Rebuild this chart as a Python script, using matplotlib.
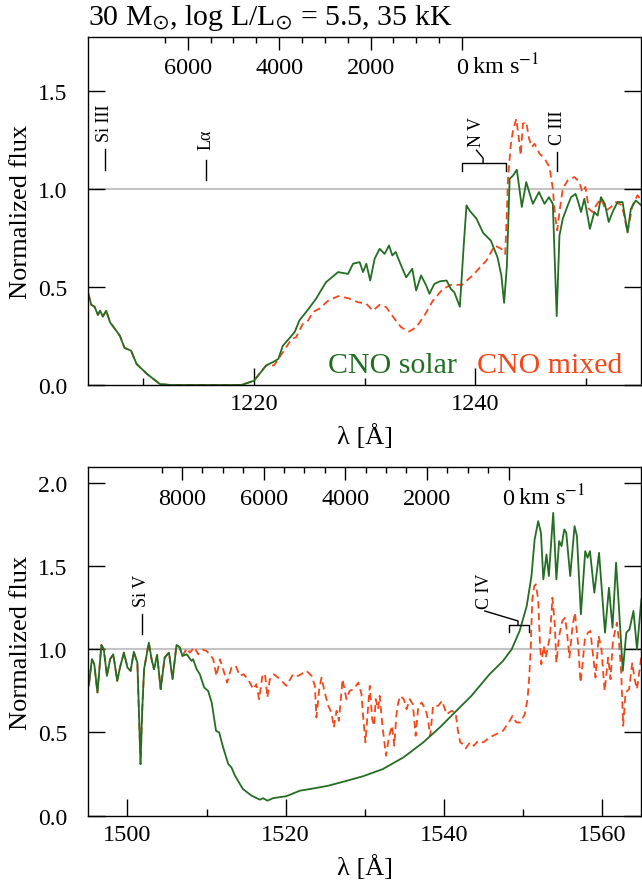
import numpy as np
import matplotlib.pyplot as plt
from matplotlib.ticker import FixedLocator, MultipleLocator, NullFormatter

plt.rcParams['font.family'] = ['Liberation Serif', 'DejaVu Serif']
plt.rcParams['mathtext.fontset'] = 'stix'

GREEN = '#236e23'
RED = '#f4471a'
C_KMS = 2.998e5

# ---------------- N V / Ly-alpha region ----------------
lam_nv_wing = [1205.0, 1205.3, 1205.6, 1205.9, 1206.1, 1206.35, 1206.65, 1207.0, 1207.4, 1207.9,
               1208.3, 1208.9, 1209.4, 1210.35, 1211.5, 1212.5, 1218.85, 1220.0, 1221.1]
flux_nv_wing = [0.474, 0.41, 0.40, 0.358, 0.38, 0.35, 0.38, 0.32, 0.29, 0.25,
                0.19, 0.175, 0.107, 0.056, 0.005, 0.0, 0.0, 0.022, 0.10]

lam_nv_solar = [1221.8, 1222.2, 1222.6, 1223.4, 1223.7, 1224.1, 1224.7, 1225.6, 1226.5, 1227.6,
                1228.5, 1228.95, 1229.55, 1229.85, 1230.15, 1230.5, 1230.9, 1231.35, 1231.8, 1232.2,
                1232.5, 1232.8, 1233.3, 1233.75, 1234.3, 1234.65, 1235.1, 1235.55, 1235.85, 1236.3,
                1236.8, 1237.4, 1237.8, 1238.1, 1238.6, 1238.95, 1239.2, 1239.5, 1240.1, 1240.7,
                1241.4, 1242.0, 1242.35, 1242.6, 1242.85, 1243.1, 1243.4, 1243.75, 1243.9, 1244.2,
                1244.6, 1244.95, 1245.2, 1245.75, 1246.25, 1246.65, 1247.0, 1247.15, 1247.35, 1247.6,
                1247.9, 1248.35, 1248.65, 1249.05, 1249.3, 1249.55, 1249.85, 1250.05, 1250.35, 1250.75,
                1251.05, 1251.35, 1251.7, 1252.05, 1252.4, 1252.85, 1253.3, 1253.75, 1254.05, 1254.5,
                1255.0]
flux_nv_solar = [0.12, 0.133, 0.20, 0.252, 0.273, 0.33, 0.372, 0.44, 0.525, 0.577,
                 0.568, 0.62, 0.628, 0.577, 0.62, 0.534, 0.645, 0.696, 0.67, 0.713,
                 0.662, 0.68, 0.61, 0.55, 0.594, 0.483, 0.56, 0.51, 0.466, 0.517,
                 0.53, 0.534, 0.49, 0.474, 0.40, 0.713, 0.918, 0.89, 0.85, 0.778,
                 0.738, 0.653, 0.56, 0.42, 0.61, 1.054, 1.07, 1.10, 1.037, 0.91,
                 1.037, 0.97, 0.926, 0.986, 0.926, 0.96, 0.926, 0.68, 0.352, 0.764,
                 0.85, 0.918, 0.96, 0.977, 0.935, 0.884, 0.952, 0.892, 0.798, 0.884,
                 0.866, 0.96, 0.926, 0.833, 0.884, 0.935, 0.935, 0.78, 0.90, 0.943,
                 0.918]

lam_nv_mixed = [1221.8, 1222.0, 1222.6, 1223.4, 1223.8, 1224.4, 1224.9, 1225.3, 1225.9, 1226.7,
                1227.6, 1228.5, 1229.4, 1230.15, 1230.75, 1231.35, 1231.95, 1232.7, 1233.3, 1234.0,
                1234.65, 1235.4, 1236.15, 1237.05, 1237.8, 1238.8, 1239.75, 1241.0, 1241.75, 1242.35,
                1242.7, 1242.85, 1242.95, 1243.2, 1243.4, 1243.7, 1243.9, 1244.1, 1244.3, 1244.6,
                1244.85, 1245.1, 1245.35, 1245.8, 1246.25, 1246.7, 1247.0, 1247.2, 1247.4, 1247.6,
                1247.9, 1248.35, 1248.95, 1249.4, 1249.65, 1249.95, 1250.25, 1250.6, 1251.0, 1251.35,
                1251.8, 1252.25, 1252.7, 1253.25, 1253.75, 1254.2, 1254.65, 1255.0]
flux_nv_mixed = [0.10, 0.116, 0.167, 0.235, 0.244, 0.312, 0.33, 0.372, 0.39, 0.431,
                 0.454, 0.444, 0.423, 0.415, 0.38, 0.41, 0.398, 0.338, 0.295, 0.273,
                 0.295, 0.355, 0.43, 0.49, 0.512, 0.512, 0.56, 0.636, 0.713, 0.696,
                 0.67, 0.884, 1.054, 1.225, 1.30, 1.36, 1.276, 1.174, 1.336, 1.344,
                 1.259, 1.216, 1.233, 1.182, 1.157, 1.114, 1.003, 0.866, 0.79, 0.884,
                 1.003, 1.046, 1.063, 1.037, 0.986, 1.012, 0.90, 0.884, 0.926, 0.952,
                 0.892, 0.909, 0.935, 0.918, 0.78, 0.918, 0.97, 0.943]

# ---------------- C IV region ----------------
lam_civ_blue = [1495.0, 1495.1, 1495.5, 1495.8, 1496.2, 1496.7, 1497.0, 1497.4, 1497.8, 1498.2,
                1498.7, 1499.05, 1499.55, 1500.0, 1500.4, 1500.8, 1501.25, 1501.45, 1501.65, 1501.85,
                1502.1, 1502.7, 1503.05, 1503.35, 1503.75, 1504.2, 1504.7, 1505.25, 1505.7, 1506.2,
                1506.6, 1506.95]
flux_civ_blue = [0.84, 0.78, 0.94, 0.91, 0.74, 1.026, 1.0, 0.84, 0.94, 0.97,
                 0.81, 0.89, 0.98, 0.89, 0.87, 0.985, 0.92, 0.62, 0.31, 0.62,
                 0.88, 1.04, 0.94, 0.88, 0.966, 0.76, 0.95, 0.98, 0.82, 1.026,
                 1.012, 0.96]

lam_civ_solar = [1507.5, 1508.1, 1508.3, 1508.75, 1509.15, 1509.7, 1510.2, 1510.65, 1511.2, 1511.6,
                 1512.1, 1512.75, 1513.15, 1513.6, 1514.6, 1515.7, 1516.75, 1517.15, 1517.7, 1518.4,
                 1520.1, 1521.8, 1523.7, 1525.4, 1527.3, 1529.8, 1532.3, 1534.9, 1537.4, 1539.5,
                 1541.6, 1543.5, 1545.8, 1547.5, 1548.6, 1549.6, 1550.5, 1551.1, 1551.5, 1551.95,
                 1552.3, 1552.6, 1553.0, 1553.3, 1553.85, 1554.25, 1554.6, 1554.9, 1555.25, 1555.5,
                 1556.0, 1556.55, 1556.85, 1557.35, 1557.9, 1558.2, 1558.5, 1559.05, 1559.65, 1560.4,
                 1560.9, 1561.35, 1561.8, 1562.1, 1562.65, 1563.1, 1563.5, 1564.0, 1564.45, 1565.0]
flux_civ_solar = [0.97, 0.93, 0.94, 0.88, 0.85, 0.77, 0.75, 0.68, 0.51, 0.50,
                  0.41, 0.31, 0.29, 0.24, 0.16, 0.12, 0.096, 0.105, 0.09, 0.105,
                  0.117, 0.15, 0.165, 0.18, 0.204, 0.237, 0.28, 0.35, 0.44, 0.53,
                  0.63, 0.72, 0.85, 0.93, 1.0, 1.11, 1.26, 1.44, 1.66, 1.77,
                  1.70, 1.42, 1.57, 1.44, 1.82, 1.42, 1.65, 1.62, 1.72, 1.70,
                  1.44, 1.74, 1.68, 1.21, 1.59, 1.55, 1.59, 1.34, 1.58, 1.10,
                  1.37, 1.13, 1.52, 1.30, 0.87, 1.10, 1.12, 1.23, 1.00, 1.30]

lam_civ_mixed = [1507.5, 1507.9, 1508.45, 1508.95, 1509.5, 1510.0, 1510.4, 1510.85, 1511.25, 1511.7,
                 1512.1, 1512.6, 1513.15, 1513.7, 1514.2, 1514.7, 1515.25, 1515.9, 1516.3, 1516.65,
                 1517.1, 1517.4, 1517.7, 1518.0, 1518.5, 1519.3, 1520.1, 1520.95, 1521.6, 1522.65,
                 1523.3, 1523.7, 1523.9, 1524.25, 1524.55, 1524.95, 1525.4, 1525.8, 1526.1, 1526.45,
                 1526.75, 1527.2, 1527.7, 1528.1, 1528.6, 1529.2, 1529.6, 1529.8, 1530.1, 1530.35,
                 1530.65, 1530.95, 1531.2, 1531.4, 1531.7, 1531.9, 1532.25, 1532.7, 1533.1, 1533.45,
                 1533.75, 1534.0, 1534.25, 1534.5, 1534.95, 1535.3, 1535.7, 1536.1, 1536.45, 1536.75,
                 1537.2, 1537.7, 1538.0, 1538.3, 1538.65, 1539.3, 1539.8, 1540.35, 1541.0, 1541.5,
                 1541.8, 1542.1, 1542.45, 1542.8, 1543.3, 1543.8, 1544.35, 1545.0, 1545.8, 1546.65,
                 1547.5, 1548.35, 1548.7, 1549.2, 1549.7, 1550.25, 1550.6, 1550.8, 1551.0, 1551.2,
                 1551.45, 1551.65, 1551.95, 1552.15, 1552.35, 1552.65, 1552.9, 1553.2, 1553.45, 1553.75,
                 1554.05, 1554.25, 1554.6, 1555.0, 1555.35, 1555.6, 1555.9, 1556.3, 1556.6, 1557.0,
                 1557.3, 1557.5, 1557.85, 1558.25, 1558.55, 1558.9, 1559.2, 1559.6, 1559.95, 1560.35,
                 1560.8, 1561.1, 1561.4, 1561.9, 1562.15, 1562.45, 1562.7, 1563.0, 1563.45, 1563.85,
                 1564.15, 1564.45, 1565.0]
flux_civ_mixed = [1.006, 0.98, 1.012, 0.97, 0.998, 0.99, 0.97, 0.94, 0.84, 0.94,
                  0.88, 0.80, 0.89, 0.90, 0.84, 0.85, 0.82, 0.76, 0.79, 0.70,
                  0.85, 0.85, 0.71, 0.82, 0.85, 0.82, 0.78, 0.85, 0.84, 0.87,
                  0.84, 0.78, 0.59, 0.76, 0.83, 0.74, 0.66, 0.62, 0.53, 0.63,
                  0.57, 0.82, 0.70, 0.75, 0.76, 0.80, 0.73, 0.60, 0.44, 0.60,
                  0.78, 0.58, 0.54, 0.70, 0.64, 0.72, 0.54, 0.36, 0.48, 0.54,
                  0.42, 0.60, 0.68, 0.72, 0.70, 0.64, 0.70, 0.67, 0.48, 0.64,
                  0.68, 0.64, 0.58, 0.48, 0.66, 0.66, 0.69, 0.61, 0.63, 0.62,
                  0.51, 0.44, 0.43, 0.405, 0.44, 0.42, 0.45, 0.44, 0.47, 0.49,
                  0.51, 0.57, 0.60, 0.56, 0.56, 0.61, 0.70, 0.82, 1.00, 1.30,
                  1.38, 1.39, 1.30, 1.06, 0.91, 1.02, 0.95, 1.02, 1.08, 1.31,
                  1.15, 0.92, 1.08, 1.17, 1.19, 1.10, 0.95, 1.14, 1.22, 1.03,
                  0.80, 0.88, 1.06, 1.10, 1.11, 0.96, 0.83, 1.08, 1.00, 0.75,
                  0.95, 0.82, 1.05, 1.16, 1.06, 0.86, 0.54, 0.74, 0.76, 0.92,
                  0.82, 0.76, 0.96]

# line identifications: (label, wavelength, tick bottom, tick top, text bottom)
ids_nv = [('Si III', 1206.5, 1.097, 1.208, 1.245),
          ('L\u03b1', 1215.67, 1.046, 1.148, 1.208),
          ('C III', 1247.4, 1.092, 1.191, 1.233)]
ids_civ = [('Si V', 1501.8, 1.092, 1.213, 1.26)]


def velocity_axis(ax, lam0, vmax, major):
    sec = ax.secondary_xaxis('top', functions=(lambda l: (lam0 - l) / lam0 * C_KMS,
                                               lambda v: lam0 - v * lam0 / C_KMS))
    sec.xaxis.set_major_locator(FixedLocator(major))
    sec.xaxis.set_minor_locator(FixedLocator(np.arange(0, vmax + 1, 500)))
    sec.xaxis.set_minor_formatter(NullFormatter())
    sec.set_xticklabels([str(v) for v in major])
    sec.tick_params(which='major', direction='in', length=9, width=1, pad=-30, labelsize=17.5)
    sec.tick_params(which='minor', direction='in', length=4, width=1)
    sec.spines['top'].set_visible(False)
    ax.annotate('km s$^{-1}$', xy=(lam0, 1), xycoords=('data', 'axes fraction'),
                xytext=(7, -30), textcoords='offset points', ha='left', va='bottom',
                fontsize=17.5)
    return sec


def style_axes(ax, xlim, ylim, yticks, xmajor):
    ax.set_xlim(*xlim)
    ax.set_ylim(*ylim)
    ax.set_yticks(yticks)
    ax.set_yticklabels(['%.1f' % y for y in yticks])
    ax.xaxis.set_major_locator(MultipleLocator(xmajor))
    ax.xaxis.set_minor_locator(MultipleLocator(xmajor / 2))
    ax.tick_params(axis='y', which='major', direction='in', length=12, width=1,
                   left=True, right=True, pad=15, labelsize=17)
    ax.tick_params(axis='x', which='major', direction='in', length=12, width=1,
                   top=False, pad=6, labelsize=17.5)
    ax.tick_params(axis='x', which='minor', direction='in', length=5, width=1, top=False)
    for s in ax.spines.values():
        s.set_linewidth(1)
    ax.axhline(1.0, color='#c4c4c4', lw=1.5, zorder=0)
    ax.set_xlabel('\u03bb [\u00c5]', fontsize=19)
    ax.set_ylabel('Normalized flux', fontsize=19)
    ax.yaxis.set_label_coords(-0.102, 0.5)
    ax.xaxis.set_label_coords(0.5, -0.11)


def mark_lines(ax, ids):
    for name, lam, y0, y1, yt in ids:
        ax.plot([lam, lam], [y0, y1], color='k', lw=1)
        ax.text(lam, yt, name, rotation=90, ha='center', va='bottom', fontsize=13)


def doublet(ax, name, lam1, lam2, ybar, yend, knee, text_xy):
    ax.plot([lam1, lam1, lam2, lam2], [yend, ybar, ybar, yend], color='k', lw=1)
    ax.plot([knee[0], knee[0], text_xy[0]], [ybar, knee[1], text_xy[1]], color='k', lw=1)
    ax.text(text_xy[0], text_xy[1] + 0.02, name, rotation=90, ha='center', va='bottom',
            fontsize=13)


fig = plt.figure(figsize=(6.42, 8.87), dpi=100)
ax1 = fig.add_axes([0.137, 0.5648, 0.862, 0.3927])
ax2 = fig.add_axes([0.137, 0.0793, 0.862, 0.3928])

# N V panel
ax1.plot(lam_nv_wing + lam_nv_mixed, flux_nv_wing + flux_nv_mixed, color=RED, lw=1.3,
         ls=(0, (4, 2.5)))
ax1.plot(lam_nv_wing + lam_nv_solar, flux_nv_wing + flux_nv_solar, color=GREEN, lw=1.3)
style_axes(ax1, (1205, 1255), (0, 1.78), [0.0, 0.5, 1.0, 1.5], 20)
velocity_axis(ax1, 1238.8, 6500, [6000, 4000, 2000, 0])
mark_lines(ax1, ids_nv)
doublet(ax1, 'N V', 1238.8, 1242.8, 1.135, 1.092, (1240.7, 1.16), (1240.1, 1.20))
ax1.text(0.666, 0.038, 'CNO solar', color=GREEN, fontsize=21.5, ha='right', va='baseline',
         transform=ax1.transAxes)
ax1.text(0.703, 0.038, 'CNO mixed', color=RED, fontsize=21.5, ha='left', va='baseline',
         transform=ax1.transAxes)

# C IV panel
ax2.plot(lam_civ_blue + lam_civ_mixed, flux_civ_blue + flux_civ_mixed, color=RED, lw=1.3,
         ls=(0, (4, 2.5)))
ax2.plot(lam_civ_blue + lam_civ_solar, flux_civ_blue + flux_civ_solar, color=GREEN, lw=1.3)
style_axes(ax2, (1495, 1565), (0, 2.094), [0.0, 0.5, 1.0, 1.5, 2.0], 20)
velocity_axis(ax2, 1548.2, 8500, [8000, 6000, 4000, 2000, 0])
mark_lines(ax2, ids_civ)
doublet(ax2, 'C IV', 1548.2, 1550.8, 1.146, 1.104, (1549.4, 1.17), (1545.2, 1.23))

fig.text(0.137, 0.972, r'30 M$_{\odot}$, log L/L$_{\odot}$ = 5.5, 35 kK', fontsize=21.5,
         ha='left', va='baseline')

fig.savefig('out.png', dpi=100)
